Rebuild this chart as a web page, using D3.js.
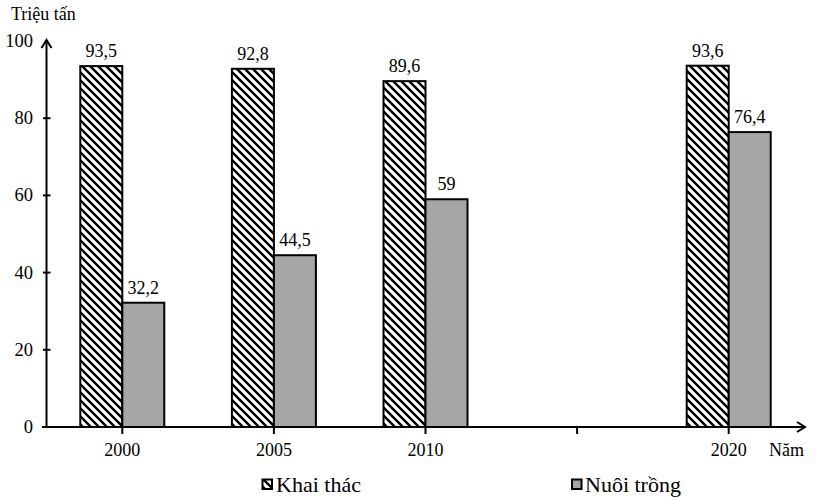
<!DOCTYPE html>
<html><head><meta charset="utf-8">
<script src="https://cdn.jsdelivr.net/npm/d3@7"></script>
<style>body{margin:0;background:#fff}svg{display:block}text{font-family:"Liberation Serif","Times New Roman",serif;fill:#000}</style>
</head><body>
<svg id="c" width="816" height="500" font-family="Liberation Serif, Times New Roman, serif"></svg>
<script>
const slots = ["2000","2005","2010","2015","2020"];
const tickLabels = ["2000","2005","2010","","2020"];
const dataYears = ["2000","2005","2010","2020"];
const khaiThac = [93.5, 92.8, 89.6, 93.6];
const nuoiTrong = [32.2, 44.5, 59, 76.4];
const valueLabelsKT = ["93,5","92,8","89,6","93,6"];
const valueLabelsNT = ["32,2","44,5","59","76,4"];
const yTicks = [0,20,40,60,80,100];
const seriesNames = ["Khai thác","Nuôi trồng"];

const svg = d3.select("#c");
const x = d3.scaleBand().domain(slots).range([46.5, 804.5]).padding(0);
const y = d3.scaleLinear().domain([0,100]).range([427, 41]);
const bw = 42;

const defs = svg.append("defs");
const P = 8;
const pat = defs.append("pattern").attr("id","hatch").attr("patternUnits","userSpaceOnUse")
  .attr("width",P).attr("height",P);
pat.append("rect").attr("width",P).attr("height",P).attr("fill","#fff");
pat.append("path").attr("d",`M-2,-2 L${P+2},${P+2} M${-P-2},-2 L2,${P+2} M${P-2},-2 L${2*P+2},${P+2}`).attr("stroke","#000").attr("stroke-width",2.4);

// bars
const g = svg.append("g");
dataYears.forEach((yr,i)=>{
  const cx = x(yr) + x.bandwidth()/2;
  g.append("rect").attr("x",cx-bw).attr("y",y(khaiThac[i])).attr("width",bw).attr("height",y(0)-y(khaiThac[i]))
    .attr("fill","url(#hatch)").attr("stroke","#000").attr("stroke-width",2);
  g.append("rect").attr("x",cx).attr("y",y(nuoiTrong[i])).attr("width",bw).attr("height",y(0)-y(nuoiTrong[i]))
    .attr("fill","#a6a6a6").attr("stroke","#000").attr("stroke-width",2);
  g.append("text").attr("x",cx-bw/2).attr("y",y(khaiThac[i])-9).attr("text-anchor","middle").attr("font-size",18).text(valueLabelsKT[i]);
  g.append("text").attr("x",cx+bw/2).attr("y",y(nuoiTrong[i])-9).attr("text-anchor","middle").attr("font-size",18).text(valueLabelsNT[i]);
});

// y axis
const ax = svg.append("g");
ax.append("line").attr("x1",46.5).attr("x2",46.5).attr("y1",y(0)).attr("y2",y(100)-1).attr("stroke","#000").attr("stroke-width",2);
ax.append("path").attr("d",`M41.5,${y(100)+7} L46.5,${y(100)-1} L51.5,${y(100)+7}`).attr("fill","none").attr("stroke","#000").attr("stroke-width",2);
yTicks.forEach(v=>{
  if(v>0 && v<100) ax.append("line").attr("x1",43).attr("x2",50.5).attr("y1",y(v)).attr("y2",y(v)).attr("stroke","#000").attr("stroke-width",2);
  ax.append("text").attr("x",33).attr("y",y(v)+6).attr("text-anchor","end").attr("font-size",18.5).text(v);
});
ax.append("text").attr("x",11).attr("y",20).attr("font-size",18).text("Triệu tấn");

// x axis
ax.append("line").attr("x1",42).attr("x2",805).attr("y1",y(0)).attr("y2",y(0)).attr("stroke","#000").attr("stroke-width",2);
ax.append("path").attr("d",`M797,${y(0)-5} L805,${y(0)} L797,${y(0)+5}`).attr("fill","none").attr("stroke","#000").attr("stroke-width",2);
slots.forEach((s,i)=>{
  const cx = x(s)+x.bandwidth()/2;
  ax.append("line").attr("x1",cx).attr("x2",cx).attr("y1",y(0)).attr("y2",y(0)+7).attr("stroke","#000").attr("stroke-width",2);
  ax.append("text").attr("x",cx).attr("y",456).attr("text-anchor","middle").attr("font-size",18).text(tickLabels[i]);
});
ax.append("text").attr("x",769).attr("y",456).attr("font-size",18).text("Năm");

// legend
const leg = svg.append("g");
leg.append("rect").attr("x",262.5).attr("y",479.5).attr("width",9.5).attr("height",9.5).attr("fill","url(#hatch)").attr("stroke","#000").attr("stroke-width",2);
leg.append("text").attr("x",276).attr("y",492).attr("font-size",22).text(seriesNames[0]);
leg.append("rect").attr("x",572).attr("y",479.5).attr("width",9.5).attr("height",9.5).attr("fill","#a6a6a6").attr("stroke","#000").attr("stroke-width",2);
leg.append("text").attr("x",585).attr("y",492).attr("font-size",22).text(seriesNames[1]);
</script>
</body></html>
